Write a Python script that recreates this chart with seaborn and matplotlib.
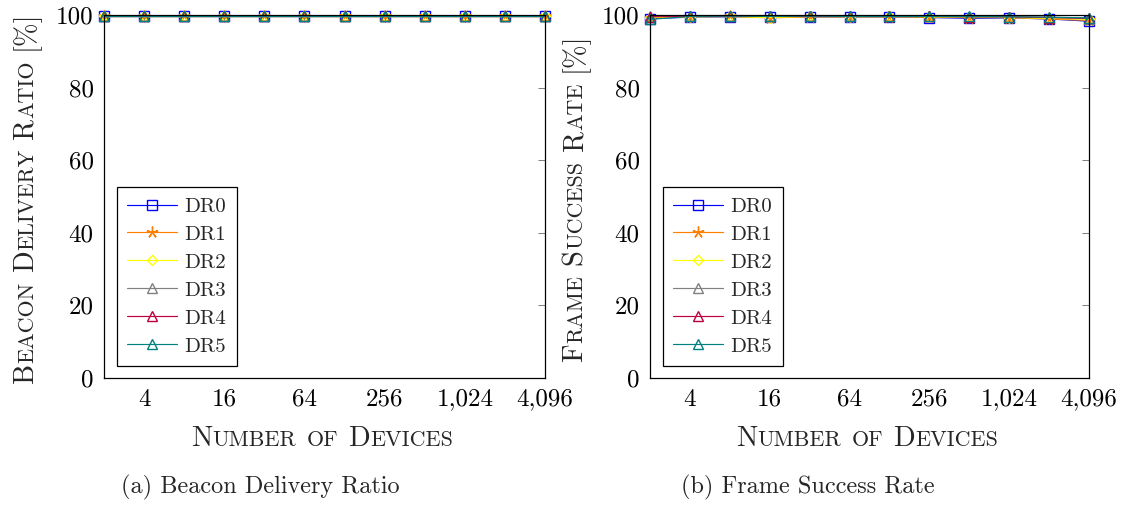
import numpy as np
import pandas as pd
import matplotlib
matplotlib.use("Agg")
import matplotlib.pyplot as plt
import seaborn as sns
from matplotlib.ticker import FixedLocator, FuncFormatter, NullLocator
from matplotlib.lines import Line2D

# ---------------- data ----------------
devices = [2, 4, 8, 16, 32, 64, 128, 256, 512, 1024, 2048, 4096]
series_names = ["DR0", "DR1", "DR2", "DR3", "DR4", "DR5"]

bdr_dr0 = [99.7, 99.7, 99.7, 99.7, 99.7, 99.7, 99.7, 99.7, 99.7, 99.7, 99.7, 99.7]
bdr_dr1 = [99.7, 99.7, 99.7, 99.7, 99.7, 99.7, 99.7, 99.7, 99.7, 99.7, 99.7, 99.7]
bdr_dr2 = [99.7, 99.7, 99.7, 99.7, 99.7, 99.7, 99.7, 99.7, 99.7, 99.7, 99.7, 99.7]
bdr_dr3 = [99.8, 99.8, 99.8, 99.8, 99.8, 99.8, 99.8, 99.8, 99.8, 99.8, 99.8, 99.8]
bdr_dr4 = [99.8, 99.8, 99.8, 99.8, 99.8, 99.8, 99.8, 99.8, 99.8, 99.8, 99.8, 99.8]
bdr_dr5 = [99.8, 99.8, 99.8, 99.8, 99.8, 99.8, 99.8, 99.8, 99.8, 99.8, 99.8, 99.8]

fsr_dr0 = [99.0, 99.4, 99.5, 99.4, 99.5, 99.4, 99.5, 99.3, 99.1, 99.2, 98.9, 98.3]
fsr_dr1 = [99.2, 99.5, 99.6, 99.2, 99.5, 99.5, 99.5, 99.4, 99.3, 99.3, 98.9, 98.5]
fsr_dr2 = [99.3, 99.5, 99.6, 99.3, 99.6, 99.5, 99.6, 99.5, 99.4, 99.3, 99.1, 98.8]
fsr_dr3 = [99.7, 99.7, 99.7, 99.7, 99.7, 99.7, 99.6, 99.6, 99.5, 99.5, 99.3, 99.0]
fsr_dr4 = [99.5, 99.6, 99.7, 99.6, 99.6, 99.6, 99.6, 99.6, 99.5, 99.5, 99.3, 99.1]
fsr_dr5 = [98.8, 99.6, 99.7, 99.6, 99.7, 99.6, 99.6, 99.6, 99.6, 99.5, 99.4, 99.2]

x_ticks = [4, 16, 64, 256, 1024, 4096]
y_ticks = [0, 20, 40, 60, 80, 100]

bdr = [bdr_dr0, bdr_dr1, bdr_dr2, bdr_dr3, bdr_dr4, bdr_dr5]
fsr = [fsr_dr0, fsr_dr1, fsr_dr2, fsr_dr3, fsr_dr4, fsr_dr5]

# ---------------- style ----------------
colors = ["#0000ff", "#ff8000", "#ffff00", "#808080", "#bf0040", "#008080"]
markers = ["s", (5, 2, 0), "D", "^", "^", "^"]
msizes = [7.5, 8.5, 5.5, 6.5, 6.5, 6.5]
LW = 0.85

sns.set_theme(style="white")
plt.rcParams["font.family"] = ["cmr10", "DejaVu Serif"]
plt.rcParams["axes.formatter.use_mathtext"] = True
plt.rcParams["mathtext.fontset"] = "cm"

W, H = 1131, 505
fig = plt.figure(figsize=(W / 100, H / 100), dpi=100)

ax1 = fig.add_axes([104 / W, 1 - 378 / H, 441 / W, 363 / H])
ax2 = fig.add_axes([650 / W, 1 - 378 / H, 439 / W, 363 / H])


def draw(ax, data):
    for name, vals, c, m, ms in zip(series_names, data, colors, markers, msizes):
        df = pd.DataFrame({"devices": devices, "value": vals})
        sns.lineplot(data=df, x="devices", y="value", ax=ax, color=c,
                     marker=m, markersize=ms, linewidth=LW,
                     markerfacecolor="none", markeredgecolor=c,
                     markeredgewidth=1.0, clip_on=False, legend=False)
    for ln in ax.lines:
        ln.set_markerfacecolor("none")
        ln.set_markeredgecolor(ln.get_color())
        ln.set_clip_on(False)
    ax.set_xscale("log", base=2)
    ax.set_xlim(2, 4096)
    ax.set_ylim(0, 100)
    ax.xaxis.set_major_locator(FixedLocator(x_ticks))
    ax.xaxis.set_major_formatter(FuncFormatter(lambda v, p: f"{int(round(v)):,}"))
    ax.xaxis.set_minor_locator(NullLocator())
    ax.yaxis.set_major_locator(FixedLocator(y_ticks))
    ax.yaxis.set_major_formatter(FuncFormatter(lambda v, p: f"{int(round(v))}"))
    ax.set_xlabel("")
    ax.set_ylabel("")
    for s in ax.spines.values():
        s.set_visible(True)
        s.set_color("black")
        s.set_linewidth(0.9)
    ax.tick_params(axis="both", which="major", direction="in", length=5,
                   width=0.6, color="#666666", top=True, right=True,
                   labelsize=18, pad=7.5, labelcolor="black")
    handles = [Line2D([], [], color=c, marker=m, markersize=ms, linewidth=LW,
                      markerfacecolor="none", markeredgecolor=c, markeredgewidth=1.0)
               for c, m, ms in zip(colors, markers, msizes)]
    leg = ax.legend(handles, series_names, loc="lower left",
                    bbox_to_anchor=(13 / 441, 12 / 363), borderaxespad=0,
                    fancybox=False, edgecolor="black", framealpha=1,
                    fontsize=15, handlelength=2.4, labelspacing=0.45,
                    handletextpad=0.35, borderpad=0.5)
    leg.get_frame().set_linewidth(0.9)


draw(ax1, bdr)
draw(ax2, fsr)

renderer = fig.canvas.get_renderer()
BIG, SMALL = 20.5, 15.9


def sc_pieces(s):
    words = s.split(" ")
    out = []
    for w in words:
        pieces = []
        for ch in w:
            if ch.isalpha() and ch.islower():
                sz, t = SMALL, ch.upper()
            else:
                sz, t = BIG, ch
            if pieces and pieces[-1][1] == sz:
                pieces[-1][0] += t
            else:
                pieces.append([t, sz])
        out.append(pieces)
    return out


def smallcaps(s, cx, cy, rotate=False):
    """cx, cy in pixel coords from top-left; for horizontal: center x, baseline y;
    for rotated: baseline x, center y."""
    words = sc_pieces(s)
    gap = BIG * 0.36 * 100 / 72
    texts = []
    total = 0
    for wi, w in enumerate(words):
        for t, sz in w:
            tx = fig.text(0, 0, t, fontsize=sz, ha="left", va="baseline",
                          rotation=90 if rotate else 0, rotation_mode="anchor")
            bb = tx.get_window_extent(renderer)
            length = bb.height if rotate else bb.width
            texts.append((tx, total))
            total += length
        if wi < len(words) - 1:
            total += gap
    start = -total / 2
    for tx, off in texts:
        if rotate:
            px = cx
            py = (H - cy) + start + off
        else:
            px = cx + start + off
            py = H - cy
        tx.set_position((px / W, py / H))


smallcaps("Beacon Delivery Ratio [%]", 33, 197, rotate=True)
smallcaps("Frame Success Rate [%]", 582, 197, rotate=True)
smallcaps("Number of Devices", 322, 446)
smallcaps("Number of Devices", 867, 446)

fig.text(260 / W, 1 - 487 / H, "(a) Beacon Delivery Ratio", fontsize=17.5,
         ha="center", va="center")
fig.text(808 / W, 1 - 487 / H, "(b) Frame Success Rate", fontsize=17.5,
         ha="center", va="center")

fig.savefig("out.png", dpi=100)
